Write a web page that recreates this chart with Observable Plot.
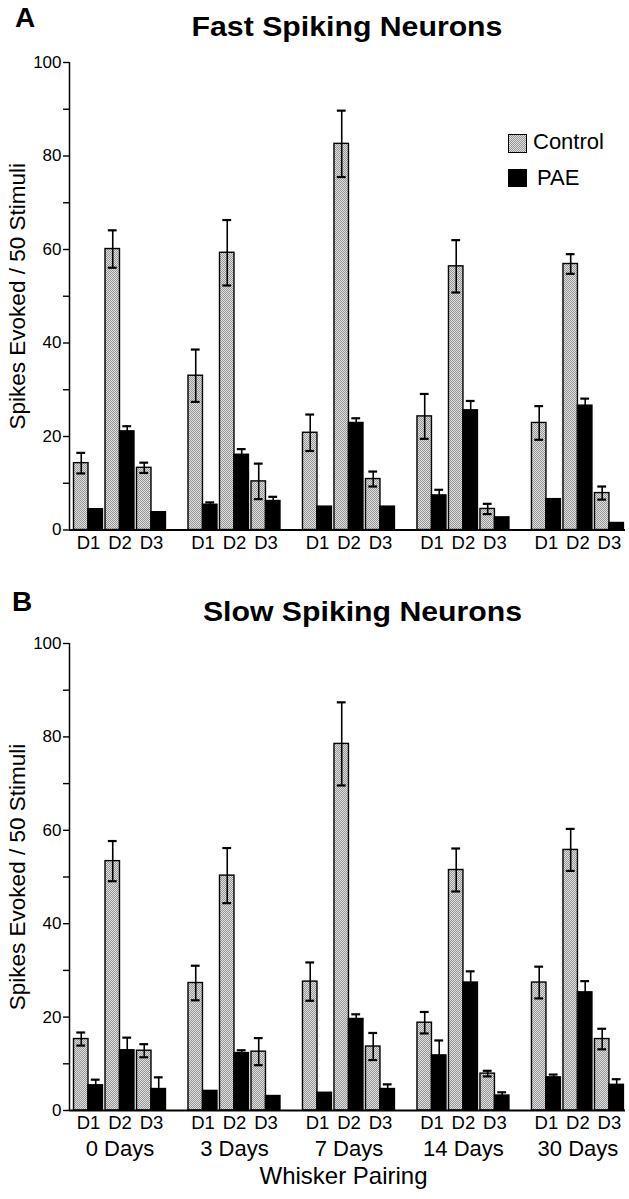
<!DOCTYPE html>
<html>
<head>
<meta charset="utf-8">
<script src="https://cdn.jsdelivr.net/npm/d3@7"></script>
<script src="https://cdn.jsdelivr.net/npm/@observablehq/plot@0.6"></script>
<style>
  body { margin: 0; background: white; font-family: "Liberation Sans", Arial, Helvetica, sans-serif; }
  #wrap { position: relative; width: 629px; height: 1199px; overflow: hidden; }
  #wrap svg { position: absolute; left: 0; }
  .lbl { position: absolute; line-height: 1; white-space: nowrap; color: black; }
  .letter { font-weight: bold; font-size: 28px; }
  .title { font-weight: bold; font-size: 27px; text-align: center; transform: scaleX(1.12); transform-origin: center; }
  .legtxt { font-size: 22px; }
  .box { position: absolute; box-sizing: border-box; border: 1.5px solid black; }
  .stip { background: repeating-conic-gradient(#959595 0 25%, #e0e0e0 0 50%) 0 0 / 2px 2px; }
</style>
</head>
<body>
<div id="wrap">
  <div class="lbl letter" style="left:15px; top:4px;">A</div>
  <div class="lbl title" style="left:0; width:694px; top:14px;">Fast Spiking Neurons</div>
  <div class="box stip" style="left:508px; top:134px; width:19px; height:19px;"></div>
  <div class="lbl legtxt" style="left:533px; top:131px;">Control</div>
  <div class="box" style="left:508px; top:169px; width:19px; height:18px; background:black;"></div>
  <div class="lbl legtxt" style="left:537px; top:167px;">PAE</div>
  <div class="lbl letter" style="left:12px; top:588px;">B</div>
  <div class="lbl title" style="left:0; width:725px; top:599px;">Slow Spiking Neurons</div>
</div>
<script>
// ---- data ----
const groups = ["0 Days", "3 Days", "7 Days", "14 Days", "30 Days"];
const whiskers = ["D1", "D2", "D3"];
const conditions = ["Control", "PAE"];

// Fast spiking neurons (order: group × whisker)
const fastControl    = [14.3, 60.1, 13.3, 33.0, 59.3, 10.4, 20.8, 82.6, 10.9, 24.3, 56.4, 4.5, 22.9, 56.9, 7.9];
const fastControlErr = [2.2, 4.0, 1.1, 5.6, 7.0, 3.8, 3.9, 7.1, 1.6, 4.8, 5.6, 1.1, 3.6, 2.1, 1.4];
const fastPAE        = [4.45, 21.1, 3.8, 5.4, 16.1, 6.2, 5.0, 22.9, 5.0, 7.4, 25.6, 2.7, 6.6, 26.6, 1.5];
const fastPAEErr     = [0, 1.1, 0, 0.5, 1.2, 0.9, 0, 1.0, 0, 1.2, 2.0, 0, 0, 1.5, 0];

// Slow spiking neurons
const slowControl    = [15.3, 53.4, 12.8, 27.3, 50.3, 12.6, 27.6, 78.5, 13.7, 18.8, 51.5, 7.9, 27.4, 55.8, 15.3];
const slowControlErr = [1.4, 4.3, 1.4, 3.7, 5.9, 2.9, 4.1, 8.9, 2.9, 2.3, 4.6, 0.6, 3.4, 4.5, 2.2];
const slowPAE        = [5.4, 12.9, 4.6, 4.2, 12.3, 3.1, 3.8, 19.6, 4.6, 11.8, 27.4, 3.2, 7.1, 25.3, 5.5];
const slowPAEErr     = [1.2, 2.7, 2.5, 0, 0.6, 0, 0, 1.0, 1.0, 3.2, 2.4, 0.7, 0.6, 2.4, 1.2];

const yTicks = [0, 10, 20, 30, 40, 50, 60, 70, 80, 90, 100];
const yTickLabels = [0, 20, 40, 60, 80, 100];

// ---- layout helpers (positions in x-scale units: one unit = one whisker pair) ----
const GROUP_STEP = 3.635;
const BAR_W = 0.46;
const CAP = 0.14;
const TICK = 0.19;
const pos = (gi, di) => gi * GROUP_STEP + di;

function buildRows(ctrl, ctrlErr, pae, paeErr) {
  const rows = [];
  ctrl.forEach((v, i) => {
    const gi = Math.floor(i / 3), di = i % 3, u = pos(gi, di);
    rows.push({group: groups[gi], whisker: whiskers[di], cond: conditions[0], u, x1: u - BAR_W, x2: u, c: u - BAR_W / 2, v, e: ctrlErr[i]});
    rows.push({group: groups[gi], whisker: whiskers[di], cond: conditions[1], u, x1: u, x2: u + BAR_W, c: u + BAR_W / 2, v: pae[i], e: paeErr[i]});
  });
  return rows;
}

function panel(rows, opts) {
  const x0 = opts.xDomain[0];
  const cells = rows.filter(r => r.cond === "Control");
  const errRows = rows.filter(r => r.e > 0);
  const marks = [
    Plot.rect(rows, {
      x1: "x1", x2: "x2", y1: 0, y2: "v",
      fill: r => r.cond === "Control" ? `url(#${opts.pid})` : "black",
      stroke: "black", strokeWidth: 1.4
    }),
    Plot.ruleX(errRows, {x: "c", y1: r => r.v - r.e, y2: r => r.v + r.e, stroke: "black", strokeWidth: 1.6}),
    Plot.ruleY(errRows, {y: r => r.v + r.e, x1: r => r.c - CAP, x2: r => r.c + CAP, stroke: "black", strokeWidth: 2.2}),
    Plot.ruleY(errRows, {y: r => r.v - r.e, x1: r => r.c - CAP, x2: r => r.c + CAP, stroke: "black", strokeWidth: 2.2}),
    Plot.ruleY([0], {stroke: "black", strokeWidth: 2}),
    Plot.ruleX([x0], {y1: 0, y2: 100, stroke: "black", strokeWidth: 1.5}),
    Plot.ruleY(yTicks, {y: d => d, x1: x0 - TICK, x2: x0, stroke: "black", strokeWidth: 1.4}),
    Plot.text(yTickLabels, {y: d => d, x: x0, text: d => String(d), dx: -8, textAnchor: "end", fontSize: 17}),
    Plot.text(cells, {x: "u", y: 0, text: "whisker", dy: 13, fontSize: 18.5}),
    Plot.text(["Spikes Evoked / 50 Stimuli"], {frameAnchor: "left", textAnchor: "middle", dx: -52, rotate: -90, fontSize: 22.5})
  ];
  if (opts.bottomLabels) {
    marks.push(Plot.text(groups, {x: (g, i) => pos(i, 1), y: 0, text: d => d, dy: 38, fontSize: 22}));
    marks.push(Plot.text(["Whisker Pairing"], {frameAnchor: "bottom", textAnchor: "middle", dy: 73, dx: -4, fontSize: 24}));
  }
  const svg = Plot.plot({
    width: 629,
    height: opts.height,
    marginLeft: 69,
    marginRight: 4,
    marginTop: opts.marginTop,
    marginBottom: opts.marginBottom,
    style: {fontFamily: "Liberation Sans, Arial, Helvetica, sans-serif", fontSize: "17px", color: "black", background: "white", overflow: "visible"},
    x: {domain: opts.xDomain, axis: null},
    y: {domain: [0, 100], axis: null},
    marks
  });
  const defs = d3.select(svg).insert("defs", ":first-child");
  const p = defs.append("pattern").attr("id", opts.pid).attr("width", 2).attr("height", 2).attr("patternUnits", "userSpaceOnUse");
  p.append("rect").attr("width", 2).attr("height", 2).attr("fill", "#e0e0e0");
  p.append("rect").attr("width", 1).attr("height", 1).attr("fill", "#959595");
  p.append("rect").attr("x", 1).attr("y", 1).attr("width", 1).attr("height", 1).attr("fill", "#959595");
  svg.style.top = opts.top + "px";
  return svg;
}

const xDomain = [-0.603, 17.05];
const wrap = document.getElementById("wrap");
const svgA = panel(buildRows(fastControl, fastControlErr, fastPAE, fastPAEErr),
  {pid: "stipA", height: 565, marginTop: 62, marginBottom: 35.5, top: 0, xDomain, bottomLabels: false});
const svgB = panel(buildRows(slowControl, slowControlErr, slowPAE, slowPAEErr),
  {pid: "stipB", height: 634, marginTop: 78, marginBottom: 89, top: 565, xDomain, bottomLabels: true});
wrap.insertBefore(svgB, wrap.firstChild);
wrap.insertBefore(svgA, wrap.firstChild);
</script>
</body>
</html>
